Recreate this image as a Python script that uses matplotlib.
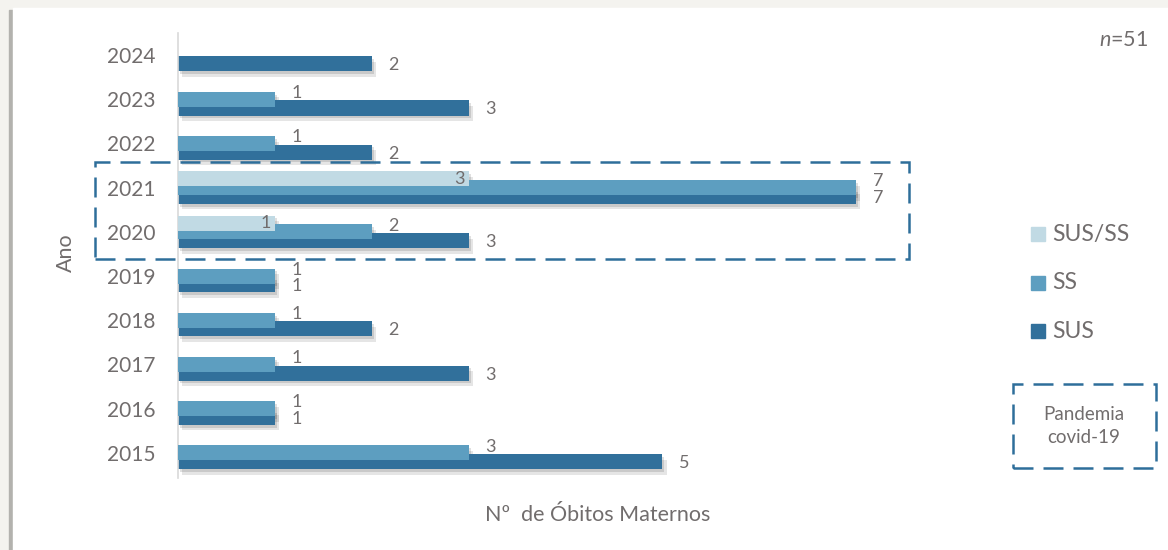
import matplotlib
matplotlib.use("Agg")
import matplotlib.pyplot as plt
import matplotlib.patheffects as pe
from matplotlib.patches import Rectangle
import numpy as np

anos = [2024, 2023, 2022, 2021, 2020, 2019, 2018, 2017, 2016, 2015]
sus = [2, 3, 2, 7, 3, 1, 2, 3, 1, 5]
ss = [0, 1, 1, 7, 2, 1, 1, 1, 1, 3]
sus_ss = [0, 0, 0, 3, 1, 0, 0, 0, 0, 0]
series = ["SUS/SS", "SS", "SUS"]
cores = {"SUS": "#31709b", "SS": "#5d9ec0", "SUS/SS": "#c1dae4"}
cinza = "#716d6d"
azul_box = "#2e6e9a"

plt.rcParams["font.family"] = ["Lato", "DejaVu Sans"]
plt.rcParams["mathtext.fontset"] = "custom"
plt.rcParams["mathtext.it"] = "Lato:italic"
plt.rcParams["mathtext.rm"] = "Lato"

W, H = 1168, 550
fig = plt.figure(figsize=(W / 100, H / 100), dpi=100)
fig.patch.set_facecolor("#f4f3ef")
# painel branco com sombra na esquerda
fig.add_artist(Rectangle((9 / W, 0), 5 / W, (H - 10) / H, color="#b3b2ae",
                         transform=fig.transFigure, zorder=0))
fig.add_artist(Rectangle((13 / W, 0), 1, (H - 8) / H, color="white",
                         transform=fig.transFigure, zorder=0))

ax = fig.add_axes([178 / W, (H - 478) / H, (953 - 178) / W, (478 - 33) / H])
ax.patch.set_alpha(0)

y = np.array(anos, dtype=float)
h = 0.34
off = 0.197

# camada de sombra (só a sombra, sem a barra)
sombra = [pe.SimplePatchShadow(offset=(1.5, -2), shadow_rgbFace="k", alpha=0.12),
          pe.SimplePatchShadow(offset=(3, -4), shadow_rgbFace="k", alpha=0.1)]
for pos, vals in ((y - off, sus), (y, ss), (y + off, sus_ss)):
    sb = ax.barh(pos, vals, height=h, color="none", zorder=1)
    for b in sb:
        b.set_path_effects(sombra)

ax.barh(y - off, sus, height=h, color=cores["SUS"], zorder=2)
ax.barh(y, ss, height=h, color=cores["SS"], zorder=3)
ax.barh(y + off, sus_ss, height=h, color=cores["SUS/SS"], zorder=4)

# rótulos de dados
for yi, v in zip(y, sus):
    if v:
        ax.annotate(str(v), (v, yi - off), xytext=(12, -1), textcoords="offset points",
                    ha="left", va="center", fontsize=13, color=cinza, zorder=6)
for yi, v in zip(y, ss):
    if v:
        ax.annotate(str(v), (v, yi), xytext=(12, 4.5), textcoords="offset points",
                    ha="left", va="center", fontsize=13, color=cinza, zorder=6)
for yi, v in zip(y, sus_ss):
    if v:
        ax.annotate(str(v), (v, yi + off), xytext=(-3, 0), textcoords="offset points",
                    ha="right", va="center", fontsize=13, color=cinza, zorder=6)

ax.set_xlim(0, 8)
ax.set_ylim(2014.43, 2024.5)
ax.set_yticks(anos)
ax.set_yticklabels([str(a) for a in anos])
ax.set_xticks([])
ax.tick_params(axis="y", length=0, pad=16, labelsize=15, labelcolor=cinza)
for s in ["top", "right", "bottom"]:
    ax.spines[s].set_visible(False)
ax.spines["left"].set_color("#d9d9d9")
ax.spines["left"].set_linewidth(1.2)

# caixa tracejada da pandemia
ax.add_patch(Rectangle((-0.857, 2019.39), 8.4, 2.19, fill=False, edgecolor=azul_box,
                       lw=1.8, linestyle=(0, (8, 4)), clip_on=False, zorder=5))

fig.text(598 / W, 1 - 515 / H, "Nº  de Óbitos Maternos", ha="center", va="center",
         fontsize=15.5, color=cinza)
fig.text(66 / W, 1 - 253 / H, "Ano", ha="center", va="center", rotation=90,
         fontsize=15.5, color=cinza)
fig.text(1148 / W, 1 - 40 / H, "$n$=51", ha="right", va="center", fontsize=15.5, color=cinza)

# legenda
for i, nome in enumerate(series):
    yc = 234 + i * 48.5
    fig.add_artist(Rectangle((1031 / W, 1 - (yc + 7) / H), 14 / W, 14 / H,
                             color=cores[nome], transform=fig.transFigure))
    fig.text(1052 / W, 1 - yc / H, nome, ha="left", va="center", fontsize=16.5, color=cinza)

fig.add_artist(Rectangle((1013 / W, 1 - 468 / H), 143 / W, 84 / H, fill=False,
                         edgecolor=azul_box, lw=1.8, linestyle=(0, (8, 4)),
                         transform=fig.transFigure))
fig.text(1084 / W, 1 - 426 / H, "Pandemia\ncovid-19", ha="center", va="center",
         fontsize=13.5, color=cinza, linespacing=1.4)

fig.savefig("out.png", dpi=100, facecolor=fig.get_facecolor())
